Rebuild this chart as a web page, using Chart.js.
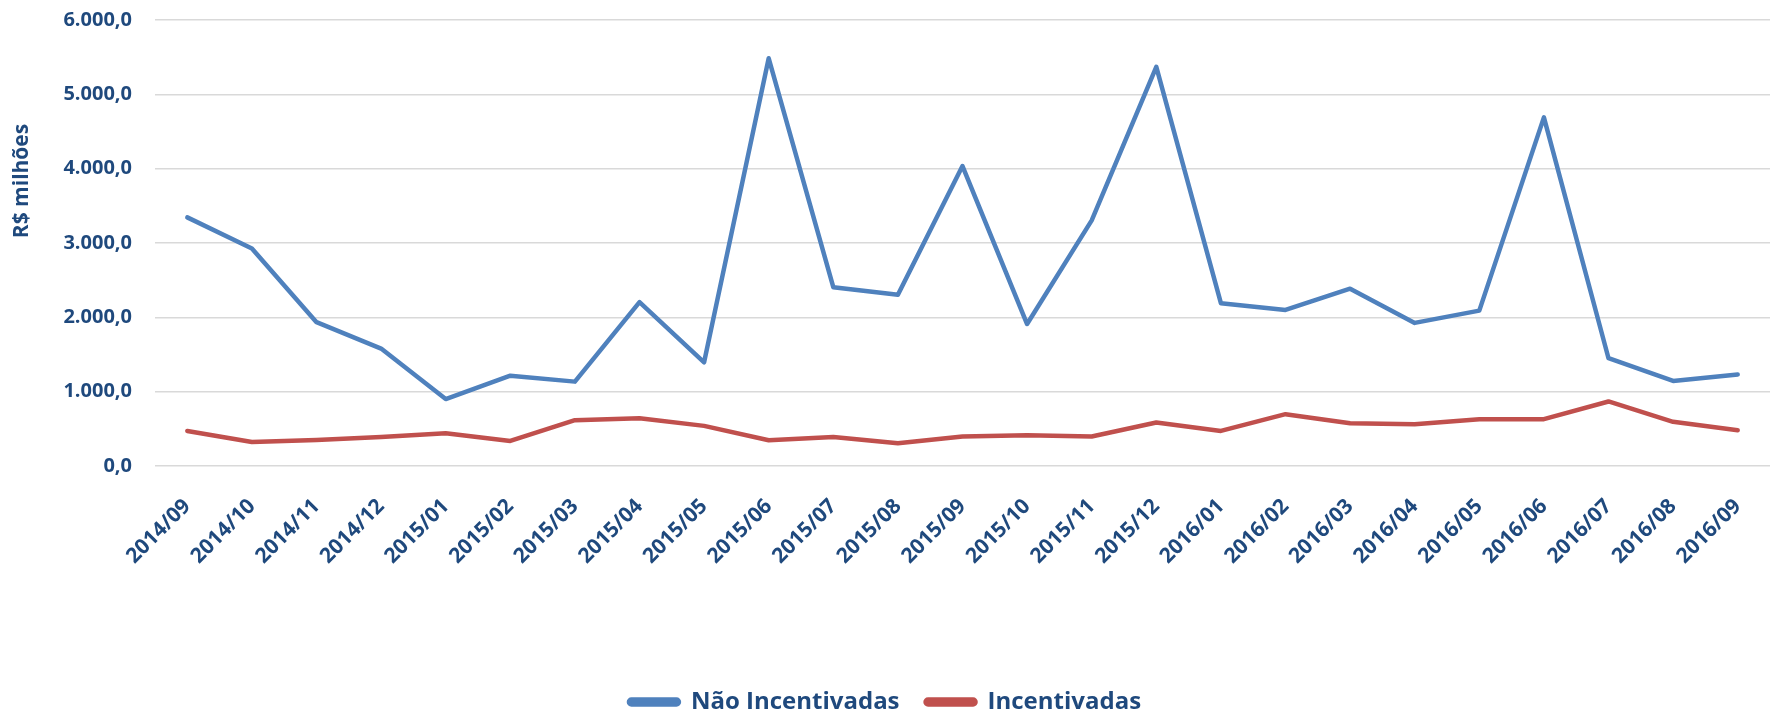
<!DOCTYPE html>
<html lang="pt-BR">
<head>
    <meta charset="UTF-8">
    <title>Não Incentivadas x Incentivadas</title>
    <script src="https://cdn.jsdelivr.net/npm/chart.js@4.4.1/dist/chart.umd.min.js"></script>
    <style>
        html, body { margin: 0; padding: 0; background: #fff; }
        #wrap { width: 1771px; height: 712px; }
    </style>
</head>
<body>
    <div id="wrap"><canvas id="chart"></canvas></div>
    <script>
        const months = ['2014/09', '2014/10', '2014/11', '2014/12', '2015/01', '2015/02', '2015/03',
            '2015/04', '2015/05', '2015/06', '2015/07', '2015/08', '2015/09', '2015/10', '2015/11',
            '2015/12', '2016/01', '2016/02', '2016/03', '2016/04', '2016/05', '2016/06', '2016/07',
            '2016/08', '2016/09'];

        const naoIncentivadas = [3345, 2925, 1935, 1580, 900, 1215, 1135, 2205, 1395, 5485, 2405,
            2305, 4035, 1910, 3305, 5370, 2190, 2100, 2385, 1925, 2090, 4690, 1450, 1145, 1230];

        const incentivadas = [472, 324, 351, 391, 441, 337, 616, 643, 540, 346, 391, 306, 396,
            414, 396, 585, 472, 697, 576, 562, 630, 630, 868, 594, 482];

        const yTicks = [0, 1000, 2000, 3000, 4000, 5000, 6000];

        const textColor = '#1F497D';
        const fontFamily = "'Open Sans', 'Noto Sans', sans-serif";

        // 1.234,5 style
        function fmt(v) {
            const parts = Number(v).toFixed(1).split('.');
            parts[0] = parts[0].replace(/\B(?=(\d{3})+(?!\d))/g, '.');
            return parts.join(',');
        }

        // axis title sits above the middle of the axis in the original
        const yTitle = {
            id: 'yTitle',
            afterDraw(chart) {
                const ctx = chart.ctx;
                ctx.save();
                ctx.translate(22, 181);
                ctx.rotate(-Math.PI / 2);
                ctx.font = "bold 21px " + fontFamily;
                ctx.fillStyle = textColor;
                ctx.textAlign = 'center';
                ctx.textBaseline = 'middle';
                ctx.fillText('R$ milhões', 0, 0);
                ctx.restore();
            }
        };

        new Chart(document.getElementById('chart'), {
            type: 'line',
            data: {
                labels: months,
                datasets: [{
                    label: 'Não Incentivadas',
                    data: naoIncentivadas,
                    borderColor: '#4F81BD',
                    backgroundColor: '#4F81BD',
                    borderWidth: 4.5,
                    pointRadius: 0,
                    borderJoinStyle: 'round',
                    borderCapStyle: 'round',
                    tension: 0
                }, {
                    label: 'Incentivadas',
                    data: incentivadas,
                    borderColor: '#C0504D',
                    backgroundColor: '#C0504D',
                    borderWidth: 4.5,
                    pointRadius: 0,
                    borderJoinStyle: 'round',
                    borderCapStyle: 'round',
                    tension: 0
                }]
            },
            options: {
                responsive: true,
                maintainAspectRatio: false,
                animation: false,
                layout: { padding: { top: 20, right: 1, left: 0, bottom: -12 } },
                plugins: {
                    tooltip: { enabled: false },
                    legend: {
                        position: 'bottom',
                        labels: {
                            color: textColor,
                            font: { family: fontFamily, size: 24, weight: 'bold' },
                            boxWidth: 50,
                            boxHeight: 5,
                            useBorderRadius: true,
                            borderRadius: 2.5,
                            padding: 26
                        }
                    }
                },
                scales: {
                    x: {
                        offset: true,
                        grid: { display: false },
                        border: { display: false },
                        ticks: {
                            color: textColor,
                            font: { family: fontFamily, size: 21, weight: 'bold' },
                            autoSkip: false,
                            minRotation: 45,
                            maxRotation: 45,
                            padding: 20
                        },
                        afterFit(scale) {
                            scale.height = 198;
                            scale.paddingLeft = 0;
                            scale.paddingRight = 0;
                        }
                    },
                    y: {
                        min: 0,
                        max: 6000,
                        afterBuildTicks(scale) { scale.ticks = yTicks.map(v => ({ value: v })); },
                        grid: { color: '#D9D9D9', lineWidth: 1.5, drawTicks: false },
                        border: { display: false },
                        ticks: {
                            color: textColor,
                            font: { family: fontFamily, size: 20, weight: 'bold' },
                            padding: 23,
                            callback: v => fmt(v)
                        },
                        afterFit(scale) {
                            scale.width = 155;
                            scale.paddingTop = 0;
                            scale.paddingBottom = 0;
                        }
                    }
                }
            },
            plugins: [yTitle]
        });
    </script>
</body>
</html>
